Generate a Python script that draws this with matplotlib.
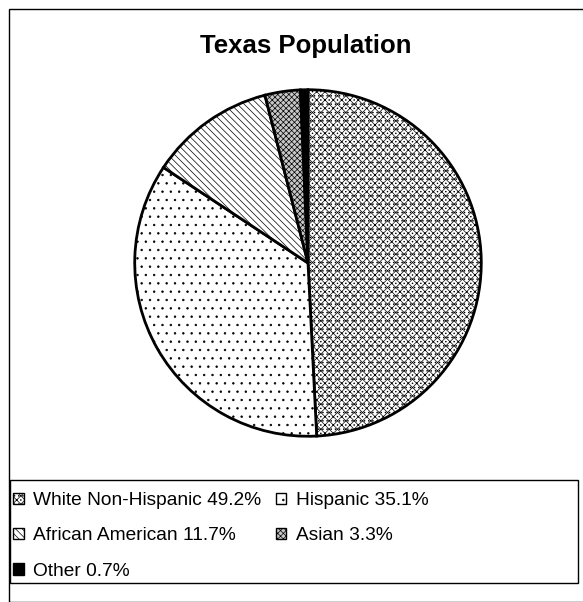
import matplotlib
matplotlib.use("Agg")
import matplotlib.pyplot as plt
from matplotlib.patches import Rectangle, Patch

labels = ["White Non-Hispanic", "Hispanic", "African American", "Asian", "Other"]
shares = [49.2, 35.1, 11.7, 3.3, 0.7]
hatches = ["xxxx....", "..", "\\\\\\\\\\", "xxxxxx", None]
fills = ["white", "white", "white", "#c8c8c8", "black"]

plt.rcParams["font.family"] = ["Liberation Sans", "DejaVu Sans"]
plt.rcParams["hatch.linewidth"] = 0.5

fig = plt.figure(figsize=(5.83, 6.02), dpi=100)
W, H = 583, 602

# outer frame
fig.patches.append(Rectangle((9 / W, 0), 1.0, 1 - 9 / H, transform=fig.transFigure,
                             fill=False, edgecolor="black", linewidth=1.0))

fig.text(306 / W, 1 - 46 / H, "Texas Population", ha="center", va="center",
         fontsize=18.5, fontweight="bold")

cx, cy, r = 308, 263, 175
ax = fig.add_axes([(cx - r) / W, 1 - (cy + r) / H, 2 * r / W, 2 * r / H])
wedges, _ = ax.pie(shares, startangle=90, counterclock=False, radius=1,
                   colors=fills, wedgeprops=dict(edgecolor="black", linewidth=2))
for w, h in zip(wedges, hatches):
    if h:
        w.set_hatch(h)
ax.set_xlim(-1.01, 1.01)
ax.set_ylim(-1.01, 1.01)
ax.set_aspect("equal")
ax.axis("off")

# legend frame
fig.patches.append(Rectangle((10 / W, 1 - 583 / H), 568 / W, 103 / H,
                             transform=fig.transFigure, fill=False,
                             edgecolor="black", linewidth=1.0))

handles = [Patch(facecolor=f, edgecolor="black", hatch=h, linewidth=1)
           for f, h in zip(fills, hatches)]
texts = [f"{l} {s}%" for l, s in zip(labels, shares)]
order = [0, 2, 4, 1, 3]
fig.legend([handles[i] for i in order], [texts[i] for i in order], ncol=2,
           loc="upper left", bbox_to_anchor=(-4 / W, 1 - 475 / H), frameon=False,
           fontsize=13.8, handlelength=0.55, handleheight=0.55, handletextpad=0.5,
           columnspacing=0.75, labelspacing=0.95, borderpad=0.4)

fig.savefig("out.png", dpi=100)
